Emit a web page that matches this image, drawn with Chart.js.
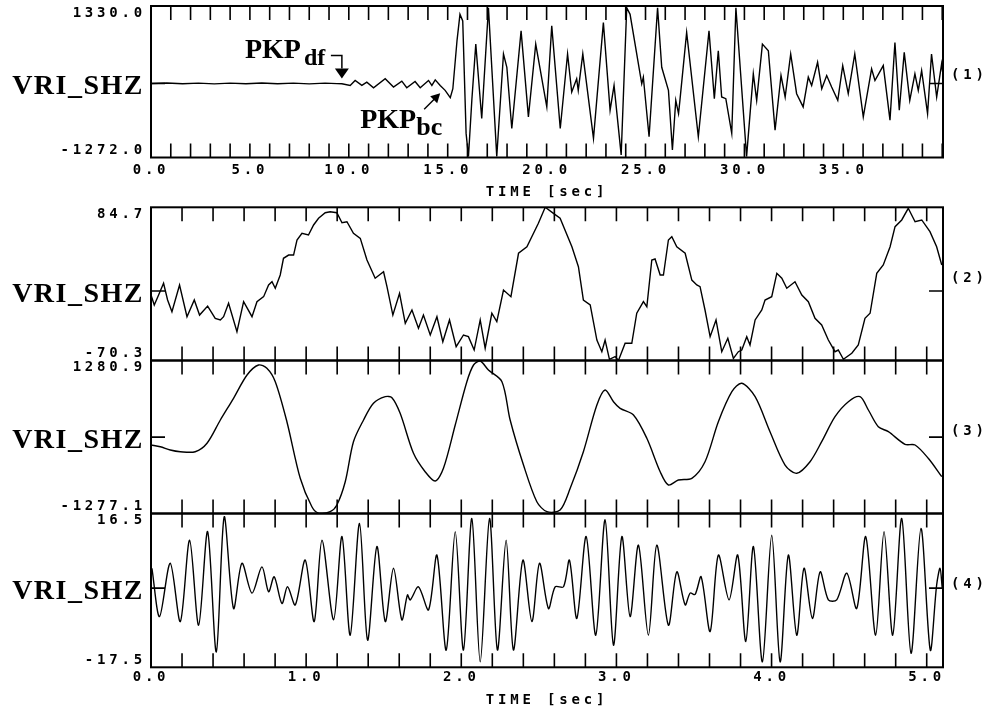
<!DOCTYPE html>
<html>
<head>
<meta charset="utf-8">
<script src="https://cdn.jsdelivr.net/npm/chart.js@4.4.1/dist/chart.umd.min.js"></script>
<style>
    html, body { margin: 0; padding: 0; background: #fff; }
    #page { position: relative; width: 985px; height: 713px; overflow: hidden; }
    canvas { position: absolute; left: 0; }
</style>
</head>
<body>
<div id="page">
    <canvas id="trace1" width="985" height="200" style="top:0px"></canvas>
    <canvas id="trace2" width="985" height="165" style="top:200px"></canvas>
    <canvas id="trace3" width="985" height="165" style="top:355px"></canvas>
    <canvas id="trace4" width="985" height="208" style="top:505px"></canvas>
</div>
<script>
const stationName = 'VRI_SHZ';
const traceTags = ['(1)', '(2)', '(3)', '(4)'];
const ampLimits = [[-1272.0, 1330.0], [-70.3, 84.7], [-1277.1, 1280.9], [-17.5, 16.5]];
const timeLimits = [[0, 40.04], [0, 5.105], [0, 5.105], [0, 5.105]];
const timeSteps = [1, 0.2, 0.2, 0.2];
const longTimeLabels = ['0.0', '5.0', '10.0', '15.0', '20.0', '25.0', '30.0', '35.0'];
const shortTimeLabels = ['0.0', '1.0', '2.0', '3.0', '4.0', '5.0'];
const timeTitle = 'TIME [sec]';

const phaseNames = ['PKP', 'PKP'];
const phaseSubs = ['df', 'bc'];
const phaseTimes = [9.65, 14.62];
const phaseAmps = [85, -170];

// trace (1): 40 s window
const t1 = [
    0, 0.8, 1.6, 2.4, 3.2, 4.0, 4.8, 5.6, 6.4, 7.2,
    8.0, 8.8, 9.4, 9.65, 10.07, 10.32, 10.66, 10.91, 11.25, 11.84,
    12.26, 12.68, 12.93, 13.35, 13.61, 14.03, 14.20, 14.37, 14.62, 14.87,
    15.13, 15.26, 15.47, 15.62, 15.76, 15.93, 16.05, 16.22, 16.42, 16.72,
    17.06, 17.48, 17.82, 17.99, 18.24, 18.71, 19.08, 19.45, 20.01, 20.26,
    20.69, 21.06, 21.27, 21.52, 21.60, 21.83, 22.37, 22.87, 23.21, 23.41,
    23.77, 24.05, 24.22, 24.81, 24.89, 25.18, 25.61, 25.82, 26.16, 26.36,
    26.53, 26.67, 26.74, 27.08, 27.67, 28.21, 28.48, 28.68, 28.85, 29.06,
    29.36, 29.57, 30.11, 30.45, 30.62, 30.91, 31.21, 31.55, 31.85, 32.06,
    32.34, 32.64, 32.97, 33.23, 33.40, 33.70, 33.91, 34.16, 34.41, 34.72,
    34.97, 35.25, 35.58, 36.01, 36.43, 36.60, 37.02, 37.36, 37.61, 37.83,
    38.08, 38.36, 38.62, 38.79, 38.96, 39.26, 39.46, 39.72, 39.97, 40.04,
];
const a1 = [
    0, 8, -6, 5, -8, 6, -5, 7, -6, 5,
    -7, 6, -4, -6, -34, 51, -34, 23, -74, 80,
    -62, 40, -74, 34, -74, 51, -34, 62, -34, -119,
    -244, -91, 733, 1187, 1073, -858, -1256, -290, 676, -602,
    1300, -1256, 506, 278, -773, 903, -574, 676, -403, 988,
    -773, 506, -148, 80, -119, 506, -943, 1045, -460, -34,
    -1227, 1300, 1187, -6, 108, -915, 1300, 278, -119, -1142,
    -290, -517, -290, 875, -915, 903, -261, 562, -233, -261,
    -858, 1300, -1256, 165, -290, 676, 562, -801, 136, -233,
    506, -176, -403, 108, -34, 363, -91, 136, -62, -290,
    307, -176, 506, -574, 250, 51, 307, -631, 704, -460,
    534, -290, 165, -119, 221, -517, 506, -233, 335, 150,
];

// trace (2)
const t2 = [
    0.000, 0.021, 0.049, 0.081, 0.107, 0.135, 0.184, 0.232, 0.279, 0.313,
    0.365, 0.414, 0.447, 0.468, 0.500, 0.554, 0.597, 0.651, 0.683, 0.726,
    0.758, 0.780, 0.801, 0.833, 0.854, 0.887, 0.919, 0.941, 0.973, 1.015,
    1.048, 1.080, 1.123, 1.155, 1.198, 1.231, 1.263, 1.305, 1.349, 1.392,
    1.445, 1.499, 1.521, 1.559, 1.602, 1.639, 1.682, 1.724, 1.756, 1.800,
    1.843, 1.881, 1.924, 1.967, 2.014, 2.046, 2.083, 2.122, 2.154, 2.197,
    2.229, 2.272, 2.320, 2.369, 2.423, 2.497, 2.541, 2.594, 2.637, 2.713,
    2.755, 2.787, 2.831, 2.874, 2.906, 2.927, 2.955, 2.992, 3.013, 3.056,
    3.099, 3.131, 3.174, 3.196, 3.228, 3.249, 3.282, 3.303, 3.335, 3.357,
    3.389, 3.443, 3.486, 3.518, 3.539, 3.571, 3.604, 3.642, 3.679, 3.718,
    3.754, 3.786, 3.808, 3.840, 3.861, 3.894, 3.937, 3.958, 4.001, 4.034,
    4.066, 4.098, 4.151, 4.195, 4.237, 4.280, 4.323, 4.366, 4.409, 4.430,
    4.463, 4.517, 4.559, 4.602, 4.635, 4.678, 4.720, 4.764, 4.796, 4.839,
    4.881, 4.925, 4.968, 5.021, 5.064, 5.097,
];
const a2 = [
    -4.0, -14.1, -4.0, 7.8, -9.1, -20.9, 6.1, -26.0, -9.1, -24.3,
    -15.2, -27.6, -29.3, -26.0, -12.4, -41.2, -10.8, -26.0, -10.8, -5.7,
    6.1, 9.4, 2.8, 16.2, 33.1, 36.4, 36.4, 51.6, 58.4, 56.7,
    66.8, 73.6, 79.2, 80.2, 79.2, 69.1, 70.1, 58.4, 53.3, 31.4,
    12.9, 19.5, 4.4, -24.3, -2.3, -32.7, -19.2, -37.7, -24.3, -44.5,
    -26.0, -51.3, -29.3, -56.3, -44.5, -46.2, -59.7, -29.3, -57.9, -22.5,
    -31.0, 1.0, -5.7, 38.2, 44.8, 68.5, 84.7, 78.6, 73.6, 44.8,
    24.6, -9.1, -14.1, -49.6, -61.4, -49.6, -69.1, -66.4, -70.3, -52.9,
    -52.9, -22.5, -10.8, -15.9, 31.4, 32.4, 16.2, 16.2, 51.6, 55.0,
    44.8, 38.2, 11.1, 6.1, 4.4, -19.2, -46.2, -29.3, -61.4, -47.8,
    -68.1, -61.4, -59.7, -46.2, -54.6, -29.3, -19.2, -9.1, -5.7, 17.9,
    12.9, 2.8, 9.4, -4.0, -10.8, -27.6, -34.4, -49.6, -61.4, -59.7,
    -69.1, -63.0, -54.6, -27.6, -22.5, 17.9, 26.3, 44.8, 65.1, 71.9,
    83.7, 70.1, 71.9, 60.0, 44.8, 26.3,
];

// trace (3)
const t3 = [
    0.000, 0.060, 0.124, 0.189, 0.285, 0.361, 0.447, 0.532, 0.619, 0.693,
    0.747, 0.801, 0.876, 0.962, 1.037, 1.080, 1.155, 1.198, 1.252, 1.305,
    1.370, 1.434, 1.510, 1.553, 1.606, 1.692, 1.767, 1.832, 1.885, 1.961,
    2.036, 2.079, 2.122, 2.175, 2.262, 2.315, 2.401, 2.487, 2.552, 2.637,
    2.702, 2.787, 2.874, 2.927, 2.981, 3.024, 3.110, 3.196, 3.282, 3.335,
    3.399, 3.486, 3.571, 3.657, 3.744, 3.808, 3.894, 3.990, 4.087, 4.162,
    4.248, 4.323, 4.409, 4.495, 4.570, 4.624, 4.688, 4.753, 4.860, 4.925,
    5.010, 5.097,
];
const a3 = [
    -131.9, -160.4, -215.5, -244, -244, -103.5, 286, 649, 1038.5, 1205.7,
    1150.5, 926.4, 257.6, -688.7, -1163.6, -1270, -1247, -1135, -745.6, -76.8,
    286, 565.3, 675.6, 658.9, 398, -270.7, -578.4, -733.9, -521.5, 202.5,
    926.4, 1205.7, 1272.5, 1122, 926.4, 286, -466.3, -1080, -1247, -1218.7,
    -855.9, -244, 536.9, 787.7, 592, 481.7, 369.7, -19.9, -578.4, -800.7,
    -717.1, -688.7, -411.1, 257.6, 759.2, 899.7, 675.6, 90.4, -466.3, -605.1,
    -411.1, -76.8, 341.2, 592, 675.6, 453.3, 174, 90.4, -120.2, -131.9,
    -354.3, -662,
];

// trace (4)
const t4 = [
    0.006, 0.055, 0.124, 0.189, 0.249, 0.307, 0.365, 0.421, 0.472, 0.532,
    0.586, 0.651, 0.715, 0.758, 0.794, 0.844, 0.880, 0.930, 0.994, 1.052,
    1.102, 1.177, 1.231, 1.284, 1.344, 1.396, 1.456, 1.510, 1.563, 1.617,
    1.653, 1.671, 1.724, 1.789, 1.843, 1.903, 1.961, 2.014, 2.068, 2.122,
    2.182, 2.233, 2.289, 2.336, 2.397, 2.455, 2.504, 2.562, 2.605, 2.659,
    2.697, 2.745, 2.805, 2.867, 2.927, 2.981, 3.035, 3.088, 3.142, 3.206,
    3.260, 3.335, 3.389, 3.443, 3.475, 3.507, 3.546, 3.604, 3.657, 3.726,
    3.782, 3.834, 3.883, 3.941, 4.001, 4.055, 4.108, 4.162, 4.209, 4.263,
    4.313, 4.366, 4.420, 4.485, 4.549, 4.607, 4.671, 4.725, 4.781, 4.839,
    4.899, 4.963, 5.023, 5.064, 5.086, 5.100,
];
const a4 = [
    4.4, -6.3, 5.5, -7.4, 10.6, -8.2, 12.5, -14.1, 15.8, -4.5,
    5.5, -1.1, 4.7, -0.8, 2.5, -3.4, 0.3, -3.7, 6.2, -7.4,
    10.6, -7.0, 11.4, -10.4, 14.3, -11.5, 9.2, -7.4, 4.4, -7.0,
    -1.5, -2.6, 0.3, -4.8, 7.3, -13.7, 12.5, -13.7, 15.4, -16.3,
    15.4, -13.7, 10.6, -13.7, 6.2, -7.4, 5.5, -4.5, 0.3, 0.3,
    6.2, -6.7, 11.4, -10.4, 15.1, -12.6, 11.4, -6.3, 9.5, -10.4,
    9.5, -8.2, 3.6, -3.7, -1.1, -1.4, 2.5, -9.6, 7.3, -2.6,
    7.3, -11.8, 9.2, -16.3, 11.7, -16.3, 7.3, -10.4, 4.4, -6.7,
    3.6, -2.6, -2.6, 3.3, -4.5, 11.4, -10.4, 12.5, -10.4, 15.4,
    -14.4, 13.2, -13.7, 0.7, 4.4, 0.0,
];

const MONO = { family: 'DejaVu Sans Mono', weight: 'bold', size: 14, lineHeight: 1 };
const SERIF = '"Liberation Serif", "Times New Roman", serif';
const TICK_LEN = 14;

function makeSeries(times, amps) {
    return times.map((t, i) => ({ x: t, y: amps[i] }));
}

function timeTickCallback(labels) {
    return function (value) {
        const text = value.toFixed(1);
        return labels && labels.includes(text) ? text : '';
    };
}

// keep the label overflow from pushing the plot area around
function noEdgePadding(scale) {
    scale.paddingTop = 0;
    scale.paddingBottom = 0;
    scale.paddingLeft = 0;
    scale.paddingRight = 0;
}

function drawPhases(ctx, xs, ys) {
    ctx.textAlign = 'left';
    ctx.textBaseline = 'alphabetic';
    ctx.lineWidth = 1.5;

    // PKPdf: bracket with a dropped arrow
    let tx = xs.getPixelForValue(phaseTimes[0]);
    let ty = ys.getPixelForValue(phaseAmps[0]);
    ctx.beginPath();
    ctx.moveTo(tx, ty);
    ctx.lineTo(tx - 7, ty - 10);
    ctx.lineTo(tx + 7, ty - 10);
    ctx.closePath();
    ctx.fill();
    ctx.beginPath();
    ctx.moveTo(tx, ty - 10);
    ctx.lineTo(tx, ty - 23);
    ctx.lineTo(tx - 11, ty - 23);
    ctx.stroke();
    ctx.font = 'bold 28px ' + SERIF;
    ctx.fillText(phaseNames[0], tx - 97, ty - 20);
    ctx.font = 'bold 24px ' + SERIF;
    ctx.fillText(phaseSubs[0], tx - 38, ty - 13);

    // PKPbc: diagonal arrow from below
    tx = xs.getPixelForValue(phaseTimes[1]);
    ty = ys.getPixelForValue(phaseAmps[1]);
    ctx.beginPath();
    ctx.moveTo(tx - 16, ty + 16);
    ctx.lineTo(tx - 4, ty + 4);
    ctx.stroke();
    ctx.beginPath();
    ctx.moveTo(tx, ty);
    ctx.lineTo(tx - 10, ty + 3);
    ctx.lineTo(tx - 3, ty + 10);
    ctx.closePath();
    ctx.fill();
    ctx.font = 'bold 28px ' + SERIF;
    ctx.fillText(phaseNames[1], tx - 80, ty + 35);
    ctx.font = 'bold 26px ' + SERIF;
    ctx.fillText(phaseSubs[1], tx - 24, ty + 42);
}

function framePlugin(index) {
    return {
        id: 'seismoFrame',
        beforeDraw(chart) {
            // wide bitmap-like look for the axis text
            chart.ctx.letterSpacing = '3.8px';
        },
        afterDraw(chart) {
            const { ctx, chartArea: area } = chart;
            const xs = chart.scales.x;
            const ys = chart.scales.y;
            const zero = ys.getPixelForValue(0);

            ctx.save();
            ctx.letterSpacing = '0px';
            ctx.strokeStyle = '#000';
            ctx.fillStyle = '#000';
            ctx.lineWidth = 1.6;
            ctx.beginPath();
            xs.ticks.forEach((tick) => {
                const px = xs.getPixelForValue(tick.value);
                ctx.moveTo(px, area.top);
                ctx.lineTo(px, area.top + TICK_LEN);
                ctx.moveTo(px, area.bottom);
                ctx.lineTo(px, area.bottom - TICK_LEN);
            });
            ctx.moveTo(area.left, zero);
            ctx.lineTo(area.left + TICK_LEN, zero);
            ctx.moveTo(area.right, zero);
            ctx.lineTo(area.right - TICK_LEN, zero);
            ctx.stroke();

            ctx.lineWidth = 2;
            ctx.strokeRect(area.left, area.top, area.right - area.left, area.bottom - area.top);

            ctx.font = 'bold 28px ' + SERIF;
            ctx.letterSpacing = '1.5px';
            ctx.textAlign = 'right';
            ctx.textBaseline = 'alphabetic';
            ctx.fillText(stationName, area.left - 7, zero + 11);
            ctx.letterSpacing = '0px';

            if (index === 0) drawPhases(ctx, xs, ys);
            ctx.restore();
        },
    };
}

const panels = [
    { id: 'trace1', t: t1, a: a1, padTop: 6, padBottom: 0, axisHeight: 42.5, labels: longTimeLabels, labelPad: 5.5, titlePad: 0.5, tagShift: -8, tension: 0 },
    { id: 'trace2', t: t2, a: a2, padTop: 7.3, padBottom: 4.5, axisHeight: 0, labels: null, labelPad: 0, titlePad: 0, tagShift: -13, tension: 0 },
    { id: 'trace3', t: t3, a: a3, padTop: 5.5, padBottom: 6.5, axisHeight: 0, labels: null, labelPad: 0, titlePad: 0, tagShift: -6, tension: 0.3 },
    { id: 'trace4', t: t4, a: a4, padTop: 8.5, padBottom: 0, axisHeight: 45.7, labels: shortTimeLabels, labelPad: 3.2, titlePad: 5.2, tagShift: -4, tension: 0.3 },
];

panels.forEach((panel, index) => {
    const ctx = document.getElementById(panel.id).getContext('2d');
    const [yMin, yMax] = ampLimits[index];
    const [xMin, xMax] = timeLimits[index];
    const showTime = panel.labels !== null;

    new Chart(ctx, {
        type: 'line',
        data: {
            datasets: [{
                data: makeSeries(panel.t, panel.a),
                borderColor: '#000',
                borderWidth: 1.4,
                pointRadius: 0,
                tension: panel.tension,
                fill: false,
            }],
        },
        options: {
            responsive: false,
            devicePixelRatio: 1,
            animation: false,
            events: [],
            layout: { padding: { top: panel.padTop, bottom: panel.padBottom, left: 0, right: 0 } },
            plugins: { legend: { display: false }, tooltip: { enabled: false } },
            scales: {
                x: {
                    type: 'linear',
                    min: xMin,
                    max: xMax,
                    bounds: 'data',
                    grid: { display: false, drawTicks: false },
                    border: { display: false },
                    ticks: {
                        display: showTime,
                        stepSize: timeSteps[index],
                        includeBounds: false,
                        autoSkip: false,
                        maxRotation: 0,
                        padding: panel.labelPad,
                        color: '#000',
                        font: MONO,
                        callback: timeTickCallback(panel.labels),
                    },
                    title: {
                        display: showTime,
                        text: timeTitle,
                        color: '#000',
                        font: MONO,
                        padding: { top: 0, bottom: panel.titlePad },
                    },
                    afterFit: (scale) => {
                        scale.height = panel.axisHeight;
                        noEdgePadding(scale);
                    },
                },
                y: {
                    position: 'left',
                    min: yMin,
                    max: yMax,
                    bounds: 'data',
                    grid: { display: false, drawTicks: false },
                    border: { display: false },
                    afterBuildTicks: (scale) => {
                        const inset = (scale.max - scale.min) * 0.046;
                        scale.ticks = [{ value: scale.min + inset }, { value: scale.max - inset }];
                    },
                    ticks: {
                        padding: 5,
                        color: '#000',
                        font: MONO,
                        callback: function (value, i) {
                            return (i === 0 ? this.min : this.max).toFixed(1);
                        },
                    },
                    afterFit: (scale) => {
                        scale.width = 151;
                        noEdgePadding(scale);
                    },
                },
                tag: {
                    position: 'right',
                    min: yMin,
                    max: yMax,
                    bounds: 'data',
                    grid: { display: false, drawTicks: false },
                    border: { display: false },
                    afterBuildTicks: (scale) => { scale.ticks = [{ value: 0 }]; },
                    ticks: {
                        padding: 8,
                        labelOffset: panel.tagShift,
                        color: '#000',
                        font: MONO,
                        callback: () => traceTags[index],
                    },
                    afterFit: (scale) => {
                        scale.width = 42;
                        noEdgePadding(scale);
                    },
                },
            },
        },
        plugins: [framePlugin(index)],
    });
});
</script>
</body>
</html>
